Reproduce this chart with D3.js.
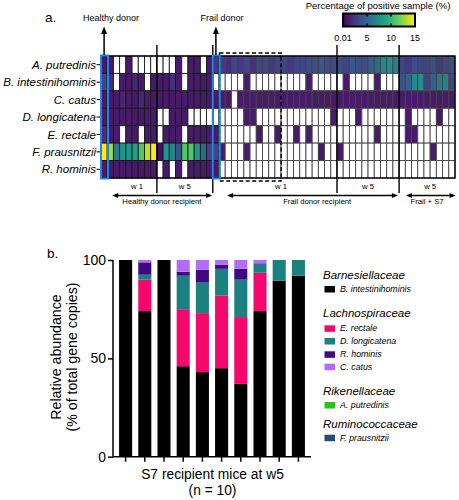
<!DOCTYPE html>
<html><head><meta charset="utf-8">
<script src="https://cdn.jsdelivr.net/npm/d3@7"></script>
<style>body{margin:0;background:#fff}text{font-family:"Liberation Sans",Arial,sans-serif;fill:#000}</style>
</head><body><svg id="c" width="459" height="500"></svg>
<script>
// ---------- Panel a data ----------
const species = ["A. putredinis","B. intestinihominis","C. catus","D. longicatena","E. rectale","F. prausnitzii","R. hominis"];
const groupNames = ["Healthy donor","HR w1","HR w5","Frail donor","FR w1","FR w5","Frail+S7 w5"];
const groupSizes = [1,8,9,1,19,10,9];
// Percentage of positive sample (%), 0 = not detected; order: HD | HR w1 | HR w5 | FD | FR w1 | FR w5 | S7 w5
const heatA = [1, 1,0,0,1,0,0,0,0, 0,0,0,1,0,1,1,0,1, 2.5,
  2.5,2,3,2.5,3,2,3,3,2.5,3,3,2.5,3,3,3.5,3.5,4,3.5,3.5, 3.5,3,4,3.5,3.5,4.5,5,7,7.5,6.5, 3,2.5,3.5,3,3,3.5,2.5,3,3.5];
const heatB = [3, 2,0,1,1,1.5,1,0,1, 1,1,2,1,0,1,1,1,1, 0,
  0,0,0,0,1,0,0,0,0,0,0,0,0,0,1,0,0,0,0, 0,1,0,0,0,0,1,0,0,0, 4,4.5,7,7.5,3,4.5,6,6.5,3];
const heatC = [1, 1,1,1.5,1,1,1.5,1,1, 1,1,1,1,1,1,1,1,1, 1,
  1,1,0,1,1,1,1,1,1,1,1,1,1,1,1,1,1,1,1, 1,1,1,1,1,1,1,1,1,1, 1,1,1,1,1,1,1,1,1];
const heatD = [1, 1,1,1,1,1,1,1,1, 0,0,1,1,1,0,0,0,0, 0,
  0,0,0,0,1,1,0,0,0,0,0,0,0,0,0,0,0,0,1, 0,0,0,1,0,0,0,0,0,0, 0,1,0,0,0,0,1,0,0];
const heatE = [2, 1,1,0,1,1,0,1,1, 0,1,1,1,0,1,1,1,1, 1,
  0,0,0,0,0,0,1,0,0,1,0,0,1,0,1,0,0,0,0, 0,0,0,0,0,0,1,0,0,0, 0,1,1,0,0,0,0,0,0];
const heatF = [15, 13,6,8,8,8.5,11,13.5,15, 0.5,8,7,4,11,11,8,5,3, 3,
  1,0,0,0,1,0,0,0,0,0,0,0,0,0,0,0,1,0,0, 1,0,0,0,0,0,0,0,0,0, 0,0,0,0,0,1,0,0,0];
const heatG = [1, 1,1,1,1,1,1,1,1, 0,1,0,1,0,1,1,1,1, 1,
  0,0,0,0,0,0,0,0,0,0,0,0,0,0,0,0,0,0,0, 0,0,0,0,0,0,0,0,0,0, 0,0,0,0,0,0,0,0,0];
const heatRows = [heatA,heatB,heatC,heatD,heatE,heatF,heatG];
const colorTicks = [0.01,5,10,15];
const weekLabels = ["w 1","w 5","w 1","w 5","w 5"];
const weekCenters = [5.8,13.5,29,43,53];           // in column units
const spanLabels = ["Healthy donor recipient","Frail donor recipient","Frail + S7"];
const spanFrom = [1.8,20.3,49.1], spanTo = [17.9,47.8,57.1], spanMid = [9.8,34.8,52.5];

// ---------- Panel b data ----------
const mice = ["m1","m2","m3","m4","m5","m6","m7","m8","m9","m10"];
const bIntestinihominis = [100,74,100,46,43,45,37,74,89.5,92];
const eRectale          = [0,16,0,29,30,37,34,19.5,0,0];
const dLongicatena      = [0,2.5,0,17,15.5,13.5,19,4.5,10.5,8];
const rHominis          = [0,6.3,0,2,6.5,2,5.6,0.3,0,0];
const cCatus            = [0,1.2,0,6,5,2.5,4.4,1.7,0,0];
const aPutredinis       = [0,0,0,0,0,0,0,0,0,0];
const fPrausnitzii      = [0,0,0,0,0,0,0,0,0,0];
const yTicks = [0,50,100];
const families = ["Barnesiellaceae","Lachnospiraceae","Rikenellaceae","Ruminococcaceae"];
const familyMembers = [["B. intestinihominis"],["E. rectale","D. longicatena","R. hominis","C. catus"],["A. putredinis"],["F. prausnitzii"]];
const speciesColors = {"B. intestinihominis":"#000000","E. rectale":"#f5086c","D. longicatena":"#1b8080",
  "R. hominis":"#3d0a82","C. catus":"#b26cf7","A. putredinis":"#2fc21c","F. prausnitzii":"#22506b"};

const svg = d3.select("#c");
svg.append("rect").attr("width",459).attr("height",500).attr("fill","#fff");

// ================= Panel a =================
const nCols = d3.sum(groupSizes);
const xH = d3.scaleBand().domain(d3.range(nCols)).range([101,455]);
const yH = d3.scaleBand().domain(species).range([56,178]);
const colX = c => xH.range()[0] + c*xH.step();
const color = d3.scaleSequential(d3.interpolateViridis).domain([0,15]);
const starts = groupSizes.map((d,i)=>d3.sum(groupSizes.slice(0,i)));

svg.append("text").attr("x",45).attr("y",22).attr("font-size",13.5).text("a.");

const cells = [];
heatRows.forEach((row,r)=>row.forEach((v,c)=>cells.push({sp:species[r],c,v})));
svg.append("g").selectAll("rect").data(cells).join("rect")
  .attr("x",d=>xH(d.c)).attr("y",d=>yH(d.sp))
  .attr("width",xH.bandwidth()).attr("height",yH.bandwidth())
  .attr("fill",d=>d.v>0?color(d.v):"#fff")
  .attr("stroke",d=>d.c>=19?"#444":"#1a1a1a").attr("stroke-width",0.9);
svg.append("rect").attr("x",colX(0)).attr("y",yH.range()[0]).attr("width",colX(nCols)-colX(0))
  .attr("height",yH.range()[1]-yH.range()[0]).attr("fill","none").attr("stroke","#000").attr("stroke-width",1.3);

// row labels
const rl = svg.append("g");
species.forEach(s=>{
  const cy = yH(s)+yH.bandwidth()/2;
  rl.append("text").attr("x",96).attr("y",cy).attr("dy","0.36em").attr("text-anchor","end")
    .attr("font-size",11.5).attr("font-style","italic").text(s);
  rl.append("line").attr("x1",96.5).attr("x2",colX(0)).attr("y1",cy).attr("y2",cy).attr("stroke","#000").attr("stroke-width",1);
});

// group separators
[starts[2],starts[3],starts[5],starts[6]].forEach(c=>{
  svg.append("line").attr("x1",colX(c)).attr("x2",colX(c)).attr("y1",45).attr("y2",193)
    .attr("stroke","#000").attr("stroke-width",1.4);
});

// dashed box (frail w1 first 10)
svg.append("rect").attr("x",colX(starts[4])+0.5).attr("y",53).attr("width",colX(starts[4]+10)-colX(starts[4])-0.5)
  .attr("height",128).attr("fill","none").attr("stroke","#000").attr("stroke-width",1.4).attr("stroke-dasharray","4,2.5");

// blue donor boxes
[starts[0],starts[3]].forEach(c=>{
  svg.append("rect").attr("x",colX(c)).attr("y",55.5).attr("width",xH.step()+0.8).attr("height",123)
    .attr("fill","none").attr("stroke","#1f86e8").attr("stroke-width",2);
});

// donor arrows
const donorLabels = ["Healthy donor","Frail donor"];
const donorLabelX = [111,222];
[starts[0],starts[3]].forEach((c,i)=>{
  const cx = colX(c)+xH.step()/2;
  svg.append("line").attr("x1",cx).attr("x2",cx).attr("y1",55).attr("y2",33).attr("stroke","#000").attr("stroke-width",1.5);
  svg.append("path").attr("d",`M${cx-3},34 L${cx+3},34 L${cx},26.5 Z`).attr("fill","#000");
  svg.append("text").attr("x",donorLabelX[i]).attr("y",21).attr("text-anchor","middle").attr("font-size",9).text(donorLabels[i]);
});

// week labels
weekLabels.forEach((t,i)=>{
  svg.append("text").attr("x",colX(weekCenters[i])).attr("y",189).attr("text-anchor","middle").attr("font-size",7.7).text(t);
});
// span arrows
spanLabels.forEach((t,i)=>{
  const x1 = colX(spanFrom[i]), x2 = colX(spanTo[i]), y=195.5;
  svg.append("line").attr("x1",x1+3).attr("x2",x2-3).attr("y1",y).attr("y2",y).attr("stroke","#000").attr("stroke-width",1.3);
  svg.append("path").attr("d",`M${x1},${y} L${x1+6},${y-2.6} L${x1+6},${y+2.6} Z`).attr("fill","#000");
  svg.append("path").attr("d",`M${x2},${y} L${x2-6},${y-2.6} L${x2-6},${y+2.6} Z`).attr("fill","#000");
  svg.append("text").attr("x",colX(spanMid[i])).attr("y",204).attr("text-anchor","middle").attr("font-size",7.7).text(t);
});

// colorbar
const cbX = d3.scaleLinear().domain([0,15]).range([343,415]);
const grad = svg.append("defs").append("linearGradient").attr("id","vg");
d3.range(0,1.001,0.1).forEach(t=>grad.append("stop").attr("offset",t).attr("stop-color",d3.interpolateViridis(t)));
svg.append("rect").attr("x",cbX(0)).attr("y",13.5).attr("width",cbX(15)-cbX(0)).attr("height",13)
  .attr("fill","url(#vg)").attr("stroke","#000").attr("stroke-width",2);
colorTicks.forEach(v=>{
  svg.append("text").attr("x",cbX(v)).attr("y",40.5).attr("text-anchor","middle").attr("font-size",9).text(v);
  if(v>0.01 && v<15){
    svg.append("line").attr("x1",cbX(v)).attr("x2",cbX(v)).attr("y1",14).attr("y2",16.5).attr("stroke","#000").attr("stroke-width",1.5);
    svg.append("line").attr("x1",cbX(v)).attr("x2",cbX(v)).attr("y1",23.5).attr("y2",26).attr("stroke","#000").attr("stroke-width",1.5);
  }
});
svg.append("text").attr("x",378).attr("y",9).attr("text-anchor","middle").attr("font-size",9.5).text("Percentage of positive sample (%)");

// ================= Panel b =================
svg.append("text").attr("x",47).attr("y",258).attr("font-size",13.5).text("b.");
const xB = d3.scaleBand().domain(mice).range([116,308]).paddingInner(0.32).paddingOuter(0.16);
const yB = d3.scaleLinear().domain([0,100]).range([456.7,260]);
const stackKeys = ["B. intestinihominis","E. rectale","D. longicatena","R. hominis","C. catus","A. putredinis","F. prausnitzii"];
const stackArrays = [bIntestinihominis,eRectale,dLongicatena,rHominis,cCatus,aPutredinis,fPrausnitzii];
const barData = mice.map((m,i)=>{const o={m}; stackKeys.forEach((k,j)=>o[k]=stackArrays[j][i]); return o;});
const series = d3.stack().keys(stackKeys)(barData);
svg.append("g").selectAll("g").data(series).join("g").attr("fill",d=>speciesColors[d.key])
  .selectAll("rect").data(d=>d).join("rect")
  .attr("x",d=>xB(d.data.m)).attr("width",xB.bandwidth())
  .attr("y",d=>yB(d[1])).attr("height",d=>Math.max(0,yB(d[0])-yB(d[1])));

const axY = svg.append("g").attr("transform","translate(113,0)")
  .call(d3.axisLeft(yB).tickValues(yTicks).tickSize(5).tickSizeOuter(0).tickPadding(2));
axY.selectAll("text").attr("font-size",14).attr("font-family","Liberation Sans, Arial, sans-serif");
axY.selectAll("line,path").attr("stroke-width",1.5);
axY.select(".domain").attr("d",`M0,${yB(0)}V${yB(100)}`);
const axX = svg.append("g").attr("transform",`translate(0,${yB(0)})`)
  .call(d3.axisBottom(xB).tickSize(5).tickFormat(""));
axX.select(".domain").attr("d",`M113,0H${xB.range()[1]+3}`);
axX.selectAll("line,path").attr("stroke-width",1.5);

svg.append("text").attr("transform","translate(61,357) rotate(-90)").attr("text-anchor","middle").attr("font-size",14.2).text("Relative abundance");
svg.append("text").attr("transform","translate(77,357) rotate(-90)").attr("text-anchor","middle").attr("font-size",14.2).text("(% of total gene copies)");
svg.append("text").attr("x",212.5).attr("y",478.5).attr("text-anchor","middle").attr("font-size",13.8).text("S7 recipient mice at w5");
svg.append("text").attr("x",212.5).attr("y",495).attr("text-anchor","middle").attr("font-size",13.8).text("(n = 10)");

// legend
const famY = [278.5,316.8,395.2,427.5];
const itemY = [[289],[328.3,341,354.3,366.7],[405],[437.7]];
families.forEach((f,i)=>{
  svg.append("text").attr("x",323).attr("y",famY[i]).attr("font-size",11.5).attr("font-style","italic").text(f);
  familyMembers[i].forEach((s,j)=>{
    const cy = itemY[i][j];
    svg.append("rect").attr("x",324.5).attr("y",cy-3).attr("width",10.5).attr("height",6.5).attr("fill",speciesColors[s]);
    svg.append("text").attr("x",340).attr("y",cy).attr("dy","0.35em").attr("font-size",8.8).attr("font-style","italic").text(s);
  });
});
</script></body></html>
